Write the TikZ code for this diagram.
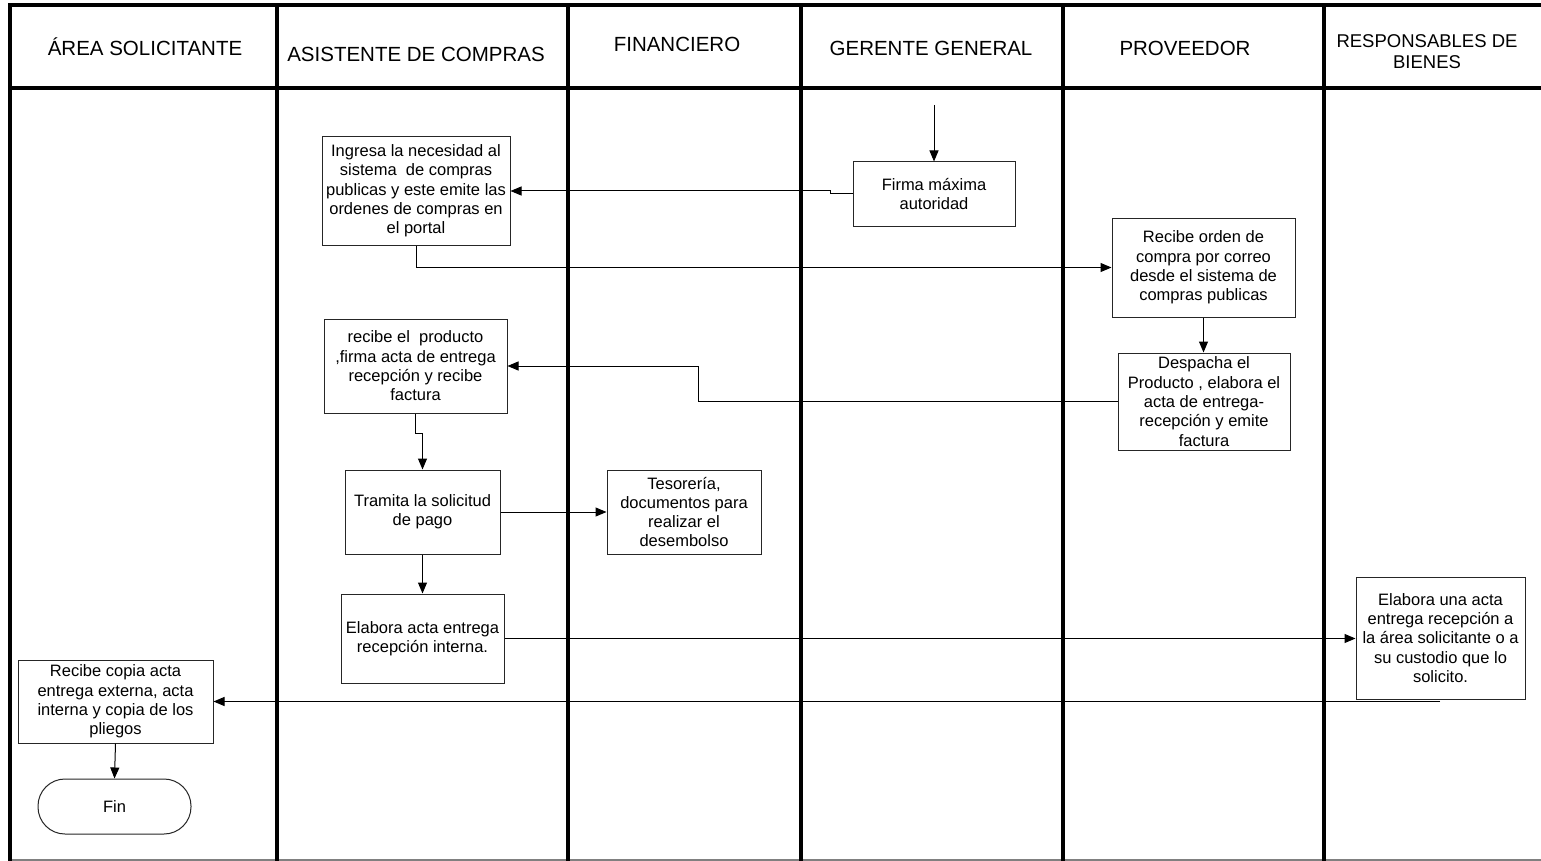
\documentclass[tikz,border=0pt]{standalone}
\usepackage{fontspec}
\setmainfont{Liberation Sans}
\usetikzlibrary{arrows.meta}

\tikzset{
  lane/.style={line width=4.5pt, line cap=rect},
  procbox/.style={draw=black!85, line width=1pt, fill=white, align=center, inner sep=0pt,
    font=\fontsize{16.5}{19.3}\selectfont},
  endbox/.style={procbox, rounded corners=27pt},
  header/.style={align=center, inner sep=0pt, font=\fontsize{20.5}{21}\selectfont},
  arr/.style={draw=black, line width=1pt, -{Triangle[length=11pt,width=9pt]}},
}

\begin{document}
\begin{tikzpicture}[x=1pt, y=-1pt]
\useasboundingbox (0,0) rectangle (1541,861);
\fill[white] (0,0) rectangle (1541,861);

% swimlane frame
\draw[gray, line width=1.5pt] (10,860) -- (1541,860);
\draw[lane] (10,5) -- (1541,5);
\draw[lane] (10,88) -- (1541,88);
\foreach \x in {10,277,568,801,1063,1324}
  \draw[lane] (\x,5) -- (\x,860);

% lane titles
\node[header] (hA) at (145,47) {ÁREA SOLICITANTE};
\node[header] (hB) at (416,54) {ASISTENTE DE COMPRAS};
\node[header] (hC) at (677,44) {FINANCIERO};
\node[header] (hD) at (931,48) {GERENTE GENERAL};
\node[header] (hE) at (1185,48) {PROVEEDOR};
\node[header, font=\fontsize{18.5}{21}\selectfont] (hF) at (1427,52) {RESPONSABLES DE\\BIENES};

% process steps
\node[procbox, minimum width=188pt, minimum height=108pt] (ingresa) at (416,191)
  {Ingresa la necesidad al\\sistema \ de compras\\publicas y este emite las\\ordenes de compras en\\el portal};
\node[procbox, minimum width=162pt, minimum height=64pt] (firma) at (934,194)
  {Firma máxima\\autoridad};
\node[procbox, minimum width=183pt, minimum height=99pt] (recibeorden) at (1203.5,267.5)
  {Recibe orden de\\compra por correo\\desde el sistema de\\compras publicas};
\node[procbox, minimum width=172pt, minimum height=97pt] (despacha) at (1204,401.5)
  {Despacha el\\Producto , elabora el\\acta de entrega-\\recepción y emite\\factura};
\node[procbox, minimum width=183pt, minimum height=94pt] (recibeprod) at (415.5,366)
  {recibe el \ producto\\,firma acta de entrega\\recepción y recibe\\factura};
\node[procbox, minimum width=155pt, minimum height=84pt] (tramita) at (422.5,512)
  {Tramita la solicitud\\de pago};
\node[procbox, minimum width=154pt, minimum height=84pt] (tesoreria) at (684,512)
  {Tesorería,\\documentos para\\realizar el\\desembolso};
\node[procbox, minimum width=163pt, minimum height=89pt] (elaboraint) at (422.5,638.5)
  {Elabora acta entrega\\recepción interna.};
\node[procbox, minimum width=169pt, minimum height=122pt] (elaborauna) at (1440.5,638)
  {Elabora una acta\\entrega recepción a\\la área solicitante o a\\su custodio que lo\\solicito.};
\node[procbox, minimum width=195pt, minimum height=83pt] (recibecopia) at (115.5,701.5)
  {Recibe copia acta\\entrega externa, acta\\interna y copia de los\\pliegos};
\node[endbox, minimum width=153pt, minimum height=55pt] (fin) at (114.5,806.5) {Fin};

% flow
\coordinate (inicio) at (934,105);
\coordinate (retorno) at (1440,701.5);
\draw[arr] (inicio) -- (firma.north);
\draw[arr] (firma.west) -- ++(-22,0) |- (ingresa.east);
\draw[arr] (ingresa.south) |- (recibeorden.west);
\draw[arr] (recibeorden.south) -- (recibeorden.south |- despacha.north);
\draw[arr] (despacha.west) -- ++(-419,0) |- (recibeprod.east);
\draw[arr] (recibeprod.south) -- ++(0,20) -| (tramita.north);
\draw[arr] (tramita.east) -- (tesoreria.west);
\draw[arr] (tramita.south) -- (elaboraint.north);
\draw[arr] (elaboraint.east) -- (elaboraint.east -| elaborauna.west);
\draw[arr] (retorno) -- (retorno -| recibecopia.east);
\draw[arr] (recibecopia.south) -- (fin.north);
\end{tikzpicture}
\end{document}
